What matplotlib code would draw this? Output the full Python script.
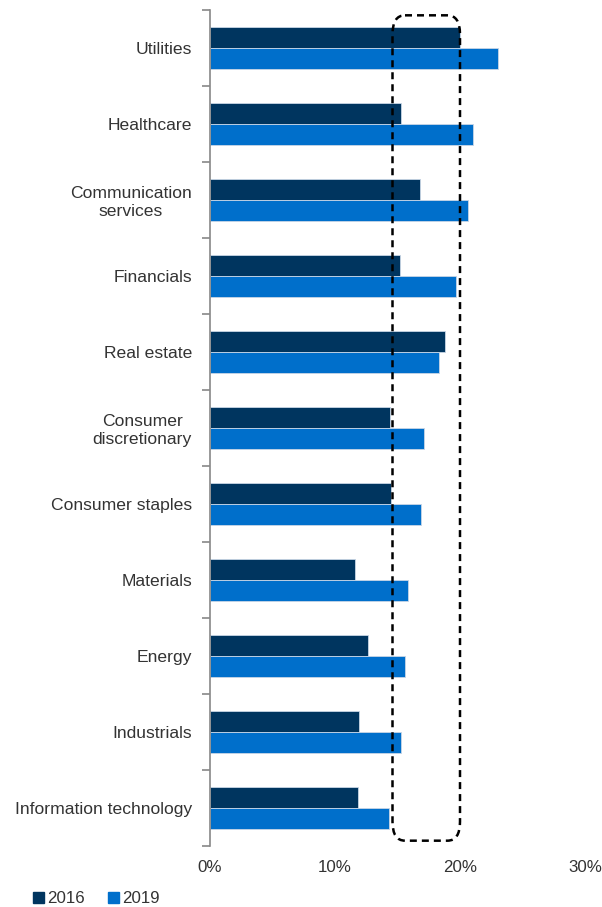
import numpy as np
import matplotlib
matplotlib.use("Agg")
import matplotlib.pyplot as plt
from matplotlib.patches import FancyBboxPatch, Patch

plt.rcParams['font.family'] = ['Liberation Sans', 'DejaVu Sans']

# Data (share, %)
sectors = ["Utilities", "Healthcare", "Communication\nservices", "Financials",
           "Real estate", "Consumer\ndiscretionary", "Consumer staples",
           "Materials", "Energy", "Industrials", "Information technology"]
val_2016 = [20.0, 15.3, 16.8, 15.2, 18.8, 14.4, 14.5, 11.6, 12.6, 11.9, 11.8]
val_2019 = [23.0, 21.0, 20.6, 19.7, 18.3, 17.1, 16.9, 15.8, 15.6, 15.3, 14.3]
xticks = [0, 10, 20, 30]
highlight = (14.6, 20.0)   # dashed box range

c2016 = "#00355f"
c2019 = "#006fcb"
txt = "#333333"

fig = plt.figure(figsize=(6.02, 9.07), dpi=100)
ax = fig.add_axes([210 / 602, 1 - 846 / 907, 375 / 602, 836 / 907])

y = np.arange(len(sectors))
h = 0.28
ax.barh(y - h / 2, val_2016, height=h, color=c2016, edgecolor="#c9d6e6", linewidth=0.6)
ax.barh(y + h / 2, val_2019, height=h, color=c2019, edgecolor="#c9d6e6", linewidth=0.6)

ax.set_xlim(0, 30)
ax.set_ylim(len(sectors) - 0.5, -0.5)

# category labels centred, ticks at category boundaries
ax.set_yticks(y)
ax.set_yticklabels(sectors, fontsize=12.6, color=txt, multialignment="center")
ax.set_yticks(np.arange(len(sectors) + 1) - 0.5, minor=True)
ax.tick_params(axis="y", which="major", length=0, pad=13)
ax.tick_params(axis="y", which="minor", length=6, color="#888888", width=1.2)

ax.set_xticks(xticks)
ax.set_xticklabels([f"{t}%" for t in xticks], fontsize=12.2, color=txt)
ax.tick_params(axis="x", length=0, pad=10)

for s in ["top", "right", "bottom"]:
    ax.spines[s].set_visible(False)
ax.spines["left"].set_color("#888888")
ax.spines["left"].set_linewidth(1.2)

# dashed rounded highlight box
box = FancyBboxPatch((highlight[0], -0.43), highlight[1] - highlight[0], len(sectors) - 0.14,
                     boxstyle="round,pad=0,rounding_size=1.0", fill=False,
                     edgecolor="black", linewidth=1.8, linestyle=(0, (2.8, 2.0)),
                     mutation_aspect=0.25, clip_on=False, zorder=5)
ax.add_patch(box)

handles = [Patch(color=c2016, label="2016"), Patch(color=c2019, label="2019")]
fig.legend(handles=handles, loc="lower left", bbox_to_anchor=(0.03, -0.016), ncol=2,
           frameon=False, fontsize=12.2, handlelength=0.65, handleheight=0.65,
           handletextpad=0.15, columnspacing=1.4, labelcolor=txt)

fig.savefig("out.png", dpi=100)
